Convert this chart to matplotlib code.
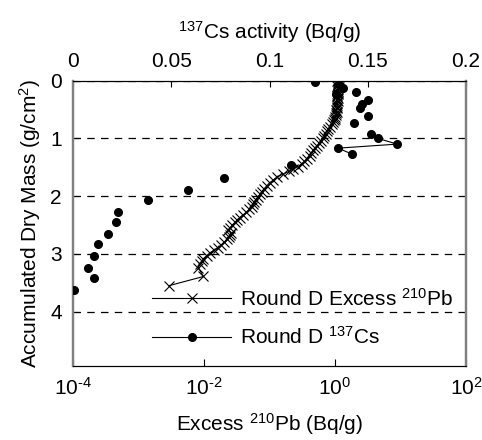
import numpy as np
import matplotlib
matplotlib.use('Agg')
import matplotlib.pyplot as plt
from matplotlib.ticker import NullLocator, FixedLocator, FixedFormatter

plt.rcParams['font.family'] = ['Liberation Sans', 'DejaVu Sans']
plt.rcParams['mathtext.fontset'] = 'custom'
plt.rcParams['mathtext.rm'] = 'Liberation Sans'
plt.rcParams['mathtext.it'] = 'Liberation Sans:italic'
plt.rcParams['font.size'] = 15

# excess 210Pb profile (Bq/g) vs accumulated dry mass (g/cm2)
pb_depth = [0.00, 0.03, 0.06, 0.09, 0.12, 0.15, 0.18, 0.21, 0.24, 0.27, 0.30, 0.33,
            0.36, 0.39, 0.42, 0.45, 0.48, 0.51, 0.54, 0.57, 0.60, 0.63, 0.66, 0.69,
            0.72, 0.76, 0.80, 0.84, 0.88, 0.92, 0.96, 1.00, 1.04, 1.08, 1.13, 1.17,
            1.21, 1.26, 1.30, 1.35, 1.40, 1.44, 1.49, 1.53, 1.57, 1.62, 1.67, 1.72,
            1.77, 1.82, 1.87, 1.92, 1.96, 2.01, 2.06, 2.10, 2.14, 2.18, 2.23, 2.28,
            2.32, 2.37, 2.41, 2.45, 2.50, 2.55, 2.58, 2.63, 2.67, 2.71, 2.75, 2.80,
            2.85, 2.90, 2.94, 2.98, 3.03, 3.08, 3.13, 3.18, 3.24, 3.39, 3.55]
pb_excess = [1.07, 1.10, 1.12, 1.09, 1.14, 1.11, 1.13, 1.10, 1.12, 1.09, 1.11, 1.08,
             1.10, 1.07, 1.09, 1.06, 1.08, 1.05, 1.06, 1.04, 1.03, 1.01, 0.99, 0.96,
             0.93, 0.89, 0.84, 0.79, 0.75, 0.72, 0.69, 0.66, 0.62, 0.57, 0.53, 0.49,
             0.46, 0.43, 0.41, 0.37, 0.34, 0.31, 0.27, 0.23, 0.20, 0.16, 0.13, 0.115,
             0.10, 0.091, 0.083, 0.076, 0.072, 0.067, 0.062, 0.058, 0.056, 0.054, 0.049, 0.044,
             0.040, 0.035, 0.032, 0.030, 0.027, 0.025, 0.0234, 0.026, 0.025, 0.024, 0.0225, 0.020,
             0.018, 0.0165, 0.014, 0.0123, 0.011, 0.0098, 0.0092, 0.0086, 0.0082, 0.0098, 0.0029]

# 137Cs activity (Bq/g)
cs_depth = [0.03, 0.06, 0.13, 0.20, 0.24, 0.33, 0.40, 0.47, 0.62, 0.74, 0.92, 1.00,
            1.10, 1.17, 1.27, 1.47, 1.69, 1.90, 2.07, 2.27, 2.45, 2.65, 2.83, 3.04,
            3.24, 3.42, 3.62]
cs_act = [0.1232, 0.1355, 0.1376, 0.1439, 0.1338, 0.1503, 0.1469, 0.1460, 0.1500, 0.1428, 0.1517, 0.1550,
          0.1650, 0.1349, 0.1418, 0.1110, 0.0767, 0.0584, 0.0380, 0.0229, 0.0219, 0.0178, 0.0126, 0.0105,
          0.0076, 0.0105, 0.0005]
cs_joined = slice(10, 15)  # points drawn with a connecting line

pb_ticks = [1e-4, 1e-2, 1e0, 1e2]
pb_ticklabels = ['$10^{\u20104}$', '$10^{\u20102}$', '$10^{0}$', '$10^{2}$']
cs_ticks = [0, 0.05, 0.1, 0.15, 0.2]
cs_ticklabels = ['0', '0.05', '0.1', '0.15', '0.2']
depth_ticks = [0, 1, 2, 3, 4]

fig = plt.figure(figsize=(4.82, 4.40), dpi=100)
ax = fig.add_axes([0.1515, 0.1693, 0.8153, 0.6477])

ax.set_xscale('log')
ax.set_xlim(1e-4, 1e2)
ax.set_ylim(4.93, 0)
pb_line, = ax.plot(pb_excess, pb_depth, color='k', lw=0.8, marker='x', ms=7, mew=0.8,
                   label='Round D Excess $^{210}$Pb')
ax.xaxis.set_major_locator(FixedLocator(pb_ticks))
ax.xaxis.set_major_formatter(FixedFormatter(pb_ticklabels))
ax.xaxis.set_minor_locator(NullLocator())
ax.set_yticks(depth_ticks)
ax.yaxis.grid(True, linestyle=(0, (6, 5)), color='k', lw=0.9)
ax.tick_params(axis='x', direction='in', length=5, pad=8)
ax.tick_params(axis='y', direction='in', length=4, pad=8)
ax.set_xlabel('Excess $^{210}$Pb (Bq/g)', labelpad=9)
ax.set_ylabel('Accumulated Dry Mass (g/cm$^2$)', labelpad=5)

ax2 = ax.twiny()
ax2.set_xlim(0, 0.2)
ax2.plot(cs_act, cs_depth, 'o', color='k', ms=5.5, zorder=3)
ax2.plot(cs_act[cs_joined], cs_depth[cs_joined], '-', color='k', lw=0.8)
cs_handle, = ax2.plot([], [], '-o', color='k', lw=0.8, ms=5.5, label='Round D $^{137}$Cs')
ax2.xaxis.set_major_locator(FixedLocator(cs_ticks))
ax2.xaxis.set_major_formatter(FixedFormatter(cs_ticklabels))
ax2.tick_params(axis='x', direction='in', length=4, pad=7)
ax2.set_xlabel('$^{137}$Cs activity (Bq/g)', labelpad=9)

for a in (ax, ax2):
    a.spines['left'].set_color('#808080')
    a.spines['right'].set_color('#808080')
    a.spines['left'].set_linewidth(1.6)
    a.spines['right'].set_linewidth(1.6)
    a.spines['top'].set_color('k')
    a.spines['bottom'].set_color('k')

ax2.legend(handles=[pb_line, cs_handle], loc='center left',
           bbox_to_anchor=(152 / 482, 1 - 318 / 440), bbox_transform=fig.transFigure,
           frameon=False, borderpad=0, borderaxespad=0, handlelength=3.8,
           handletextpad=0.4, labelspacing=0.8, fontsize=15)

fig.savefig('out.png', dpi=100)
